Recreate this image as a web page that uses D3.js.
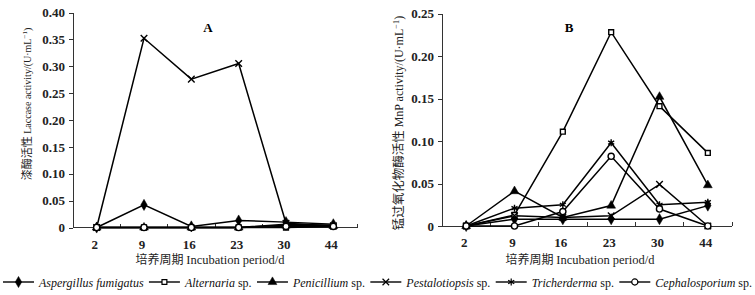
<!DOCTYPE html>
<html>
<head>
<meta charset="utf-8">
<script src="https://cdn.jsdelivr.net/npm/d3@7"></script>
<style>
  body { margin: 0; background: #fff; }
  .axis path, .axis line { stroke: #333; shape-rendering: crispEdges; }
</style>
</head>
<body>
<svg class="chart" width="755" height="295"></svg>
<script>
var days = ["2", "9", "16", "23", "30", "44"];
var species = ["Aspergillus fumigatus", "Alternaria", "Penicillium", "Pestalotiopsis", "Tricherderma", "Cephalosporium"];
var suffix = ["", " sp.", " sp.", " sp.", " sp.", " sp."];

// Laccase activity (A)
var lacAspergillus   = [0, 0.042, 0.002, 0.013, 0.010, 0.006];
var lacAlternaria    = [0, 0, 0, 0, 0, 0.002];
var lacPenicillium   = [0, 0, 0, 0, 0.004, 0.003];
var lacPestalotiopsis = [0, 0.352, 0.276, 0.305, 0.008, 0.003];
var lacTricherderma  = [0, 0, 0, 0, 0.006, 0.004];
var lacCephalosporium = [0, 0, 0, 0, 0.002, 0.002];

// MnP activity (B)
var mnpAspergillus   = [0, 0.008, 0.008, 0.008, 0.008, 0.024];
var mnpAlternaria    = [0, 0.013, 0.111, 0.228, 0.141, 0.086];
var mnpPenicillium   = [0, 0.041, 0.010, 0.024, 0.152, 0.048];
var mnpPestalotiopsis = [0, 0.012, 0.010, 0.012, 0.049, 0];
var mnpTricherderma  = [0, 0.021, 0.025, 0.098, 0.025, 0.028];
var mnpCephalosporium = [0, 0, 0.017, 0.082, 0.020, 0];

var ticksA = [0, 0.05, 0.10, 0.15, 0.20, 0.25, 0.30, 0.35, 0.40];
var ticksB = [0, 0.05, 0.10, 0.15, 0.20, 0.25];

var lacSeries = [lacAspergillus, lacAlternaria, lacPenicillium, lacPestalotiopsis, lacTricherderma, lacCephalosporium];
var mnpSeries = [mnpAspergillus, mnpAlternaria, mnpPenicillium, mnpPestalotiopsis, mnpTricherderma, mnpCephalosporium];

var symbols = [d3.symbolDiamond, d3.symbolSquare2, d3.symbolTriangle, d3.symbolTimes, d3.symbolAsterisk, d3.symbolCircle];
var symFilled = [true, false, true, false, false, false];
var symSize = [36, 30, 34, 30, 34, 30];

var SERIF = "'Liberation Serif', 'Times New Roman', Times, serif";
var CJK = "'Noto Sans CJK SC', sans-serif";

var chart = d3.select(".chart");

function fmt(v) { return v === 0 ? "0" : d3.format(".2f")(v); }

function drawPanel(opt) {
    var x = d3.scalePoint().domain(days).range([opt.x0, opt.x1]).padding(0.5);
    var y = d3.scaleLinear().domain([0, opt.max]).range([opt.y0, opt.y1]);
    var g = chart.append("g");

    // y axis
    var ay = g.append("g").attr("class", "axis")
        .attr("transform", "translate(" + opt.x0 + ",0)")
        .call(d3.axisLeft(y).tickValues(opt.ticks).tickFormat(fmt).tickSize(4).tickPadding(4).tickSizeOuter(0));
    ay.selectAll("text").attr("font-family", null)
        .style("font-family", SERIF).style("font-size", "13px").style("font-weight", "bold").style("fill", "#222");

    // x axis: ticks between categories
    var step = x.step();
    var ax = g.append("g").attr("class", "axis")
        .attr("transform", "translate(0," + opt.y0 + ")");
    ax.append("line").attr("x1", opt.x0).attr("x2", opt.x1).attr("stroke", "#555");
    ax.selectAll(".tk").data(d3.range(1, days.length + 1)).enter().append("line")
        .attr("x1", function (i) { return opt.x0 + i * step; })
        .attr("x2", function (i) { return opt.x0 + i * step; })
        .attr("y1", 0).attr("y2", -4).attr("stroke", "#555");
    ax.selectAll(".lb").data(days).enter().append("text")
        .attr("x", function (d) { return x(d) - 2; })
        .attr("y", 21)
        .attr("text-anchor", "middle")
        .style("font-family", SERIF)
        .style("font-size", "13px").style("font-weight", "bold").style("fill", "#222")
        .text(function (d) { return d; });

    // series
    var line = d3.line().x(function (d, i) { return x(days[i]); }).y(function (d) { return y(d); });
    opt.series.forEach(function (s, k) {
        g.append("path").datum(s).attr("d", line)
            .attr("fill", "none").attr("stroke", "#000").attr("stroke-width", 1.5);
    });
    opt.series.forEach(function (s, k) {
        g.selectAll(".m" + k).data(s).enter().append("path")
            .attr("transform", function (d, i) { return "translate(" + x(days[i]) + "," + y(d) + ")"; })
            .attr("d", d3.symbol().type(symbols[k]).size(symSize[k]))
            .attr("fill", symFilled[k] ? "#000" : "#fff")
            .attr("stroke", "#000").attr("stroke-width", symFilled[k] ? 0.5 : 1.4);
    });

    // panel label
    g.append("text").attr("x", opt.labelX).attr("y", 32).attr("text-anchor", "middle")
        .style("font-family", SERIF)
        .style("font-size", "13px").style("font-weight", "bold").text(opt.label);

    // x title
    var xt = g.append("text").attr("x", opt.xTitleX).attr("y", 264).attr("text-anchor", "middle")
        .style("font-family", SERIF).style("font-size", "12.5px").style("fill", "#222");
    xt.append("tspan").style("font-family", CJK).style("font-size", "12px").text("培养周期 ");
    xt.append("tspan").text("Incubation period/d");

    // y title
    var yt = g.append("text")
        .attr("transform", "translate(" + opt.yTitleX + "," + opt.yTitleY + ") rotate(-90)")
        .attr("text-anchor", "middle").style("font-family", SERIF).style("font-size", opt.enSize + "px").style("fill", "#222");
    yt.append("tspan").style("font-family", CJK).style("font-size", opt.cnSize + "px").text(opt.yCn + " ");
    yt.append("tspan").text(opt.yEn + "/(U·mL");
    yt.append("tspan").attr("baseline-shift", "super").style("font-size", (opt.enSize * 0.7) + "px").text("−1");
    yt.append("tspan").text(")");
}

drawPanel({ x0: 73, x1: 357, y0: 227.5, y1: 12.5, max: 0.40, ticks: ticksA, series: lacSeries,
    label: "A", labelX: 208, xTitleX: 210, yTitleX: 31, yTitleY: 104, enSize: 10, cnSize: 11,
    yCn: "漆酶活性", yEn: "Laccase activity" });
drawPanel({ x0: 442, x1: 732, y0: 226, y1: 13.5, max: 0.25, ticks: ticksB, series: mnpSeries,
    label: "B", labelX: 569, xTitleX: 580, yTitleX: 403, yTitleY: 123, enSize: 12, cnSize: 12.5,
    yCn: "锰过氧化物酶活性", yEn: "MnP activity" });

// legend: laid out in one row from x=3 to x=752
var leg = chart.append("g").attr("transform", "translate(0,282)");
var items = [];
species.forEach(function (s, k) {
    var gx = leg.append("g");
    gx.append("line").attr("x1", 0).attr("x2", 31).attr("stroke", "#000").attr("stroke-width", 1.4);
    gx.append("path").attr("transform", "translate(15.5,0)")
        .attr("d", d3.symbol().type(symbols[k]).size(symSize[k]))
        .attr("fill", symFilled[k] ? "#000" : "#fff")
        .attr("stroke", "#000").attr("stroke-width", symFilled[k] ? 0.5 : 1.2);
    var t = gx.append("text").attr("x", 36).attr("y", 4.5)
        .style("font-family", SERIF).style("font-size", "12px").style("fill", "#111");
    t.append("tspan").style("font-style", "italic").text(s);
    t.append("tspan").text(suffix[k]);
    items.push({ g: gx, w: 36 + t.node().getComputedTextLength() });
});
var total = d3.sum(items, function (d) { return d.w; });
var gap = (752 - 3 - total) / (items.length - 1);
var cx = 3;
items.forEach(function (d) {
    d.g.attr("transform", "translate(" + cx + ",0)");
    cx += d.w + gap;
});
</script>
</body>
</html>
